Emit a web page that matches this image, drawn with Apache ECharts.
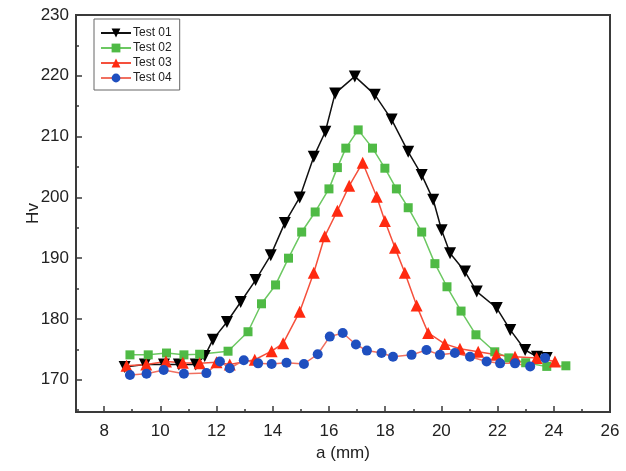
<!DOCTYPE html>
<html>
<head>
<meta charset="utf-8">
<script src="https://cdn.jsdelivr.net/npm/echarts@6/dist/echarts.min.js"></script>
<style>
  html, body { margin: 0; padding: 0; background: #fff; }
  #chart { width: 626px; height: 471px; }
</style>
</head>
<body>
<div id="chart"></div>
<script>
// data (x in mm, Hv)
var test01X = [8.73, 9.45, 10.13, 10.66, 11.26, 11.58, 11.87, 12.37, 12.86, 13.39, 13.93, 14.43, 14.96, 15.46, 15.87, 16.22, 16.92, 17.63, 18.23, 18.82, 19.30, 19.71, 20.01, 20.31, 20.84, 21.26, 21.97, 22.45, 22.98, 23.40, 23.75];
var test01Y = [172.1, 172.5, 172.5, 172.5, 172.5, 173.9, 176.6, 179.5, 182.8, 186.4, 190.5, 195.8, 200.0, 206.7, 210.8, 217.1, 219.9, 216.9, 212.8, 207.5, 203.7, 199.6, 194.6, 190.8, 187.8, 184.5, 181.8, 178.2, 174.9, 173.8, 173.6];

var test02X = [8.92, 9.57, 10.22, 10.84, 11.40, 12.41, 13.12, 13.60, 14.10, 14.56, 15.03, 15.51, 16.00, 16.30, 16.60, 17.04, 17.55, 17.99, 18.40, 18.82, 19.30, 19.77, 20.20, 20.70, 21.23, 21.90, 22.40, 23.00, 23.75, 24.43];
var test02Y = [174.1, 174.1, 174.4, 174.1, 174.2, 174.7, 177.9, 182.5, 185.6, 190.0, 194.3, 197.6, 201.4, 204.9, 208.1, 211.1, 208.1, 204.8, 201.4, 198.3, 194.3, 189.1, 185.3, 181.3, 177.4, 174.6, 173.6, 172.8, 172.2, 172.3];

var test03X = [8.80, 9.50, 10.20, 10.80, 11.40, 12.00, 12.47, 13.36, 13.96, 14.37, 14.96, 15.46, 15.85, 16.30, 16.72, 17.20, 17.70, 17.99, 18.35, 18.70, 19.12, 19.53, 20.12, 20.66, 21.31, 21.96, 22.62, 23.39, 24.04];
var test03Y = [172.3, 172.5, 173.0, 172.8, 172.7, 172.9, 172.5, 173.3, 174.7, 176.0, 181.2, 187.6, 193.6, 197.8, 201.9, 205.7, 200.1, 196.1, 191.7, 187.6, 182.2, 177.7, 175.9, 175.1, 174.6, 174.1, 173.8, 173.6, 173.0];

var test04X = [8.92, 9.51, 10.12, 10.84, 11.64, 12.12, 12.47, 12.97, 13.48, 13.96, 14.49, 15.11, 15.60, 16.03, 16.49, 16.96, 17.35, 17.87, 18.28, 18.94, 19.47, 19.95, 20.48, 21.02, 21.61, 22.09, 22.62, 23.16, 23.69];
var test04Y = [170.8, 171.0, 171.6, 171.0, 171.1, 173.0, 171.9, 173.2, 172.7, 172.6, 172.8, 172.6, 174.2, 177.1, 177.7, 175.8, 174.8, 174.4, 173.8, 174.1, 174.9, 174.1, 174.4, 173.8, 173.0, 172.7, 172.7, 172.2, 173.6];

var xMajor = [8, 10, 12, 14, 16, 18, 20, 22, 24, 26];
var xMinor = [9, 11, 13, 15, 17, 19, 21, 23, 25];
var yMajor = [170, 180, 190, 200, 210, 220, 230];
var yMinor = [165, 175, 185, 195, 205, 215, 225];

function pairs(xs, ys) {
  return xs.map(function (x, i) { return [x, ys[i]]; });
}

var axisColor = '#3a3a3a';
var font = 'Liberation Sans';

var myChart = echarts.init(document.getElementById('chart'));

var option = {
  animation: false,
  backgroundColor: '#fff',
  grid: {
    left: 76, right: 16, top: 15, bottom: 59,
    show: true,
    borderColor: axisColor,
    borderWidth: 2
  },
  legend: {
    orient: 'vertical',
    left: 94, top: 19,
    itemWidth: 30, itemHeight: 11, itemGap: 3,
    padding: [8, 8, 6, 6],
    borderColor: '#666', borderWidth: 1,
    textStyle: { fontFamily: font, fontSize: 12, color: '#222', padding: [0, 0, 0, -3] },
    data: ['Test 01', 'Test 02', 'Test 03', 'Test 04']
  },
  xAxis: [{
    type: 'value', min: 7, max: 26, interval: 1,
    name: 'a (mm)', nameLocation: 'middle', nameGap: 30,
    nameTextStyle: { fontFamily: font, fontSize: 17, color: '#222' },
    axisLine: { lineStyle: { color: axisColor, width: 2 } },
    axisTick: { inside: true, length: 6, customValues: xMajor, lineStyle: { color: axisColor, width: 1.5 } },
    axisLabel: { customValues: xMajor, fontFamily: font, fontSize: 17, color: '#222', margin: 11 },
    splitLine: { show: false }
  }, {
    type: 'value', min: 7, max: 26, interval: 1, position: 'bottom',
    axisLine: { show: false },
    axisTick: { inside: true, length: 3, customValues: xMinor, lineStyle: { color: axisColor, width: 1.5 } },
    axisLabel: { show: false },
    splitLine: { show: false }
  }],
  yAxis: [{
    type: 'value', min: 164.7, max: 230,
    name: 'Hv', nameLocation: 'middle', nameGap: 34, nameRotate: 90, nameMoveOverlap: false,
    nameTextStyle: { fontFamily: font, fontSize: 17, color: '#222' },
    axisLine: { lineStyle: { color: axisColor, width: 2 } },
    axisTick: { inside: true, length: 6, customValues: yMajor, lineStyle: { color: axisColor, width: 1.5 } },
    axisLabel: { customValues: yMajor, fontFamily: font, fontSize: 17, color: '#222', margin: 7 },
    splitLine: { show: false }
  }, {
    type: 'value', min: 164.7, max: 230, position: 'left',
    axisLine: { show: false },
    axisTick: { inside: true, length: 3, customValues: yMinor, lineStyle: { color: axisColor, width: 1.5 } },
    axisLabel: { show: false },
    splitLine: { show: false }
  }],
  series: [{
    name: 'Test 01', type: 'line',
    data: pairs(test01X, test01Y),
    symbol: 'triangle', symbolRotate: 180, symbolSize: 12,
    lineStyle: { color: '#111', width: 1.5 },
    itemStyle: { color: '#000' }
  }, {
    name: 'Test 02', type: 'line',
    data: pairs(test02X, test02Y),
    symbol: 'rect', symbolSize: 9,
    lineStyle: { color: '#6cc862', width: 1.5 },
    itemStyle: { color: '#4fba45' }
  }, {
    name: 'Test 03', type: 'line',
    data: pairs(test03X, test03Y),
    symbol: 'triangle', symbolSize: 12,
    lineStyle: { color: '#f5503c', width: 1.5 },
    itemStyle: { color: '#ff2a10' }
  }, {
    name: 'Test 04', type: 'line',
    data: pairs(test04X, test04Y),
    symbol: 'circle', symbolSize: 10,
    lineStyle: { color: '#f07060', width: 1.5 },
    itemStyle: { color: '#1f4fbf' }
  }]
};

myChart.setOption(option);
</script>
</body>
</html>
